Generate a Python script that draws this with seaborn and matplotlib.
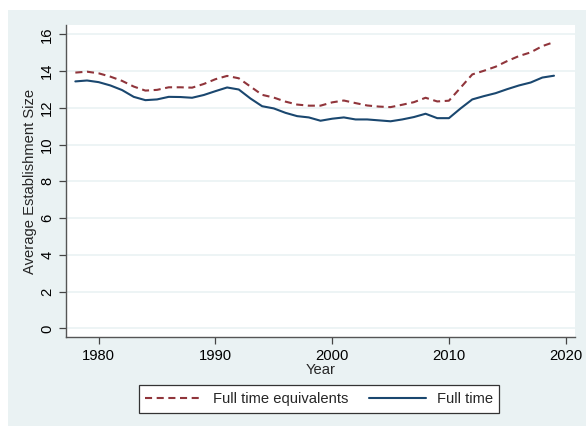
import numpy as np
import pandas as pd
import matplotlib
matplotlib.use("Agg")
import matplotlib.pyplot as plt
from matplotlib.patches import Rectangle
import seaborn as sns

sns.set_style("white")
plt.rcParams["font.family"] = ["Liberation Sans", "DejaVu Sans"]

# ---------------------------------
# DATA
# ---------------------------------

years = list(range(1978, 2020))

full_time_equiv = [13.92, 13.97, 13.88, 13.70, 13.47, 13.16, 12.94, 12.98, 13.12, 13.12,
                   13.10, 13.30, 13.56, 13.74, 13.61, 13.16, 12.71, 12.56, 12.34, 12.18,
                   12.12, 12.12, 12.30, 12.40, 12.26, 12.13, 12.07, 12.04, 12.17, 12.31,
                   12.55, 12.35, 12.39, 13.10, 13.82, 14.02, 14.24, 14.55, 14.82, 15.02,
                   15.36, 15.58]

full_time = [13.44, 13.49, 13.40, 13.22, 12.97, 12.60, 12.42, 12.46, 12.60, 12.59,
             12.55, 12.70, 12.91, 13.11, 13.00, 12.51, 12.09, 11.97, 11.73, 11.55,
             11.48, 11.30, 11.41, 11.48, 11.37, 11.37, 11.32, 11.27, 11.37, 11.50,
             11.68, 11.44, 11.44, 11.97, 12.46, 12.64, 12.80, 13.02, 13.22, 13.38,
             13.65, 13.75]

x_ticks = [1980, 1990, 2000, 2010, 2020]
y_ticks = [0, 2, 4, 6, 8, 10, 12, 14, 16]

df = pd.DataFrame({"Year": years, "FTE": full_time_equiv, "FT": full_time})

# ---------------------------------
# FIGURE
# ---------------------------------

bg = "#EAF2F3"
maroon = "#90353B"
navy = "#1A476F"
fs = 10.6

fig = plt.figure(figsize=(5.86, 4.26), dpi=100)
fig.patch.set_facecolor("white")
fig.patches.append(Rectangle((8 / 586, 0), 1, 1 - 10 / 426, transform=fig.transFigure,
                             facecolor=bg, edgecolor="none", zorder=-10))

ax = fig.add_axes([66 / 586, 1 - 337 / 426, (575 - 66) / 586, (337 - 25) / 426])
ax.set_facecolor("white")

sns.lineplot(data=df, x="Year", y="FTE", ax=ax, color=maroon, linewidth=1.5,
             dashes=False, label="Full time equivalents")
sns.lineplot(data=df, x="Year", y="FT", ax=ax, color=navy, linewidth=1.5,
             label="Full time")
ax.lines[0].set_dashes((3.4, 2.2))

ax.set_xlim(1977.2, 2020.8)
ax.set_ylim(-0.47, 16.51)
ax.set_xticks(x_ticks)
ax.set_yticks(y_ticks)
ax.yaxis.grid(True, color=bg, linewidth=1.2)
ax.set_axisbelow(True)

for s in ["top", "right"]:
    ax.spines[s].set_visible(False)
for s in ["left", "bottom"]:
    ax.spines[s].set_color("#555555")
    ax.spines[s].set_linewidth(1.0)

ax.tick_params(axis="both", direction="out", length=5, width=0.9, color="#444444",
               labelsize=fs, labelcolor="black", left=True, bottom=True)
for lbl in ax.get_yticklabels():
    lbl.set_rotation(90)
    lbl.set_va("center")

ax.set_xlabel("Year", fontsize=fs, labelpad=0)
ax.set_ylabel("Average Establishment Size", fontsize=fs, labelpad=2)

leg = ax.legend(loc="center", bbox_to_anchor=(319 / 586, 1 - 399 / 426),
                bbox_transform=fig.transFigure, ncol=2, frameon=True, fancybox=False,
                fontsize=fs, handlelength=3.9, handletextpad=0.7, columnspacing=1.4,
                borderpad=0.45)
leg.get_frame().set_edgecolor("#333333")
leg.get_frame().set_linewidth(0.9)
leg.get_frame().set_facecolor("white")
leg.get_frame().set_alpha(1)

fig.savefig("out.png", dpi=100, facecolor=fig.get_facecolor())
